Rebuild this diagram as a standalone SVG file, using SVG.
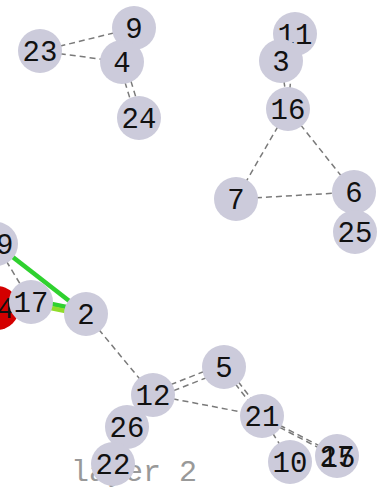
<svg xmlns="http://www.w3.org/2000/svg" width="378" height="489" viewBox="0 0 378 489">
<style>
.n{fill:#cccbdb}
.r{fill:#d40000}
.t{font-family:"Liberation Mono",monospace;font-size:29px;fill:#111;text-anchor:middle}
.d{stroke:#7a7a7a;stroke-width:1.5;stroke-dasharray:6 4;fill:none}
.g{stroke:#2fd12f;stroke-width:4.5;fill:none}
.y{stroke:#90dd2a;stroke-width:4.5;fill:none}
.lab{font-family:"Liberation Mono",monospace;font-size:30px;fill:#999;text-anchor:middle}
</style>
<rect width="378" height="489" fill="#fff"/>
<text class="lab" x="134" y="481">layer 2</text>
<g id="edges">
<line class="d" x1="40" y1="51" x2="134" y2="28"/>
<line class="d" x1="40" y1="51" x2="122" y2="62"/>
<line class="d" x1="119" y1="63" x2="136" y2="118"/>
<line class="d" x1="125" y1="62" x2="142" y2="117"/>
<line class="d" x1="281" y1="61" x2="288" y2="109"/>
<line class="d" x1="295" y1="34" x2="288" y2="109"/>
<line class="d" x1="288" y1="109" x2="236" y2="199"/>
<line class="d" x1="288" y1="109" x2="354" y2="192"/>
<line class="d" x1="236" y1="199" x2="354" y2="192"/>
<line class="d" x1="-4" y1="244" x2="31" y2="302"/>
<line class="g" x1="-4" y1="244" x2="86" y2="314"/>
<line class="g" x1="32" y1="300" x2="86" y2="311"/>
<line class="y" x1="31" y1="304" x2="85" y2="315"/>
<line class="d" x1="86" y1="314" x2="153" y2="395"/>
<line class="d" x1="152" y1="392" x2="223" y2="364"/>
<line class="d" x1="155" y1="398" x2="226" y2="370"/>
<line class="d" x1="153" y1="395" x2="262" y2="416"/>
<line class="d" x1="223" y1="368" x2="261" y2="417"/>
<line class="d" x1="226" y1="366" x2="264" y2="415"/>
<line class="d" x1="262" y1="416" x2="290" y2="461"/>
<line class="d" x1="262" y1="416" x2="337" y2="455"/>
<line class="d" x1="262" y1="418" x2="338" y2="458"/>
</g>
<g id="n11"><circle class="n" cx="295" cy="34" r="22"/><text class="t" x="295" y="44">11</text></g>
<g id="n3"><circle class="n" cx="281" cy="61" r="22"/><text class="t" x="281" y="71">3</text></g>
<g id="n16"><circle class="n" cx="288" cy="109" r="22"/><text class="t" x="288" y="119">16</text></g>
<g id="n7"><circle class="n" cx="236" cy="199" r="22"/><text class="t" x="236" y="209">7</text></g>
<g id="n6"><circle class="n" cx="354" cy="192" r="22"/><text class="t" x="354" y="202">6</text></g>
<g id="n25"><circle class="n" cx="355" cy="232" r="22"/><text class="t" x="355" y="242">25</text></g>
<g id="n9"><circle class="n" cx="134" cy="28" r="22"/><text class="t" x="134" y="38">9</text></g>
<g id="n23"><circle class="n" cx="40" cy="51" r="22"/><text class="t" x="40" y="61">23</text></g>
<g id="n4"><circle class="n" cx="122" cy="62" r="22"/><text class="t" x="122" y="72">4</text></g>
<g id="n24"><circle class="n" cx="139" cy="118" r="22"/><text class="t" x="139" y="128">24</text></g>
<g id="n19"><circle class="n" cx="-4" cy="244" r="22"/><text class="t" x="-4" y="254">19</text></g>
<g id="n14"><circle class="r" cx="-3" cy="308" r="22"/><text class="t" x="-3" y="318">14</text></g>
<g id="n17"><circle class="n" cx="31" cy="302" r="22"/><text class="t" x="31" y="312">17</text></g>
<g id="n2"><circle class="n" cx="86" cy="314" r="22"/><text class="t" x="86" y="324">2</text></g>
<g id="n5"><circle class="n" cx="224" cy="367" r="22"/><text class="t" x="224" y="377">5</text></g>
<g id="n26"><circle class="n" cx="127" cy="427" r="22"/><text class="t" x="127" y="437">26</text></g>
<g id="n12"><circle class="n" cx="153" cy="395" r="22"/><text class="t" x="153" y="405">12</text></g>
<g id="n22"><circle class="n" cx="113" cy="464" r="22"/><text class="t" x="113" y="474">22</text></g>
<g id="n21"><circle class="n" cx="262" cy="416" r="22"/><text class="t" x="262" y="426">21</text></g>
<g id="n10"><circle class="n" cx="290" cy="462" r="22"/><text class="t" x="290" y="472">10</text></g>
<g id="n27"><circle class="n" cx="337" cy="456" r="22"/><text class="t" x="337" y="466">27</text></g>
<g id="n15"><circle class="n" cx="338" cy="457" r="22" fill-opacity="0"/><text class="t" x="338" y="467">15</text></g>
</svg>
